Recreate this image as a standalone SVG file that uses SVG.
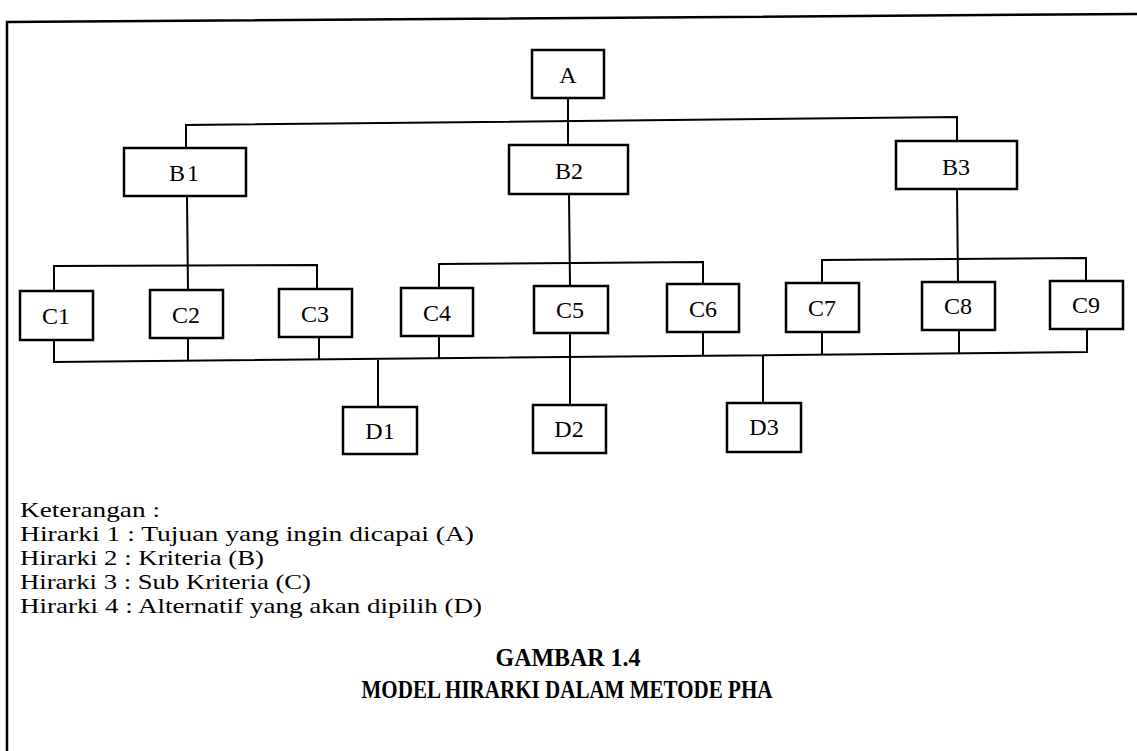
<svg xmlns="http://www.w3.org/2000/svg" width="1137" height="751" viewBox="0 0 1137 751">
<style>
.box{fill:#fff;stroke:#000;stroke-width:2.5}
.lbl{font-family:"Liberation Serif","Times New Roman",serif;font-size:24px;fill:#000;text-anchor:middle;dominant-baseline:central}
.c{fill:none;stroke:#000;stroke-width:2}
.t{font-family:"Liberation Serif","Times New Roman",serif;font-size:21px;fill:#000}
.h{font-family:"Liberation Serif","Times New Roman",serif;font-size:26px;font-weight:bold;fill:#000;text-anchor:middle}
</style>
<rect width="1137" height="751" fill="#fff"/>
<g id="frame" fill="none" stroke="#000" stroke-width="2.5">
<polyline points="7,751 7,22 1137,14"/>
</g>
<g id="connectors" class="c">
<line x1="568" y1="98" x2="568" y2="145"/>
<polyline points="186,148 186,125 957,117 957,141"/>
<line x1="187" y1="196" x2="188" y2="290"/>
<line x1="569" y1="194" x2="570" y2="286"/>
<line x1="957" y1="189" x2="958" y2="282"/>
<polyline points="54,291 54,266 317,265 317,289"/>
<polyline points="439,288 439,264 703,262 703,284"/>
<polyline points="822,283 822,260 1086,258 1086,281"/>
<polyline points="54,340 54,362 1087,352 1087,329"/>
<line x1="188" y1="338" x2="188" y2="361"/>
<line x1="319" y1="337" x2="319" y2="360"/>
<line x1="439" y1="336" x2="439" y2="358"/>
<line x1="570" y1="333" x2="570" y2="405"/>
<line x1="703" y1="332" x2="703" y2="356"/>
<line x1="822" y1="332" x2="822" y2="355"/>
<line x1="959" y1="330" x2="959" y2="353"/>
<line x1="378" y1="360" x2="378" y2="407"/>
<line x1="763" y1="356" x2="763" y2="403"/>
</g>
<g id="A"><rect class="box" x="532" y="50" width="72" height="48"/><text class="lbl" x="568" y="75">A</text></g>
<g id="B1"><rect class="box" x="124" y="148" width="122" height="48"/><text class="lbl" x="185" y="173" letter-spacing="2">B1</text></g>
<g id="B2"><rect class="box" x="509" y="145" width="119" height="49"/><text class="lbl" x="569" y="171">B2</text></g>
<g id="B3"><rect class="box" x="896" y="141" width="121" height="48"/><text class="lbl" x="956" y="167">B3</text></g>
<g id="C1"><rect class="box" x="20" y="291" width="73" height="49"/><text class="lbl" x="56" y="316">C1</text></g>
<g id="C2"><rect class="box" x="150" y="290" width="73" height="48"/><text class="lbl" x="186" y="315">C2</text></g>
<g id="C3"><rect class="box" x="279" y="289" width="73" height="48"/><text class="lbl" x="315" y="314">C3</text></g>
<g id="C4"><rect class="box" x="401" y="288" width="72" height="48"/><text class="lbl" x="437" y="313">C4</text></g>
<g id="C5"><rect class="box" x="534" y="286" width="74" height="47"/><text class="lbl" x="570" y="310">C5</text></g>
<g id="C6"><rect class="box" x="667" y="284" width="72" height="48"/><text class="lbl" x="703" y="309">C6</text></g>
<g id="C7"><rect class="box" x="786" y="283" width="73" height="49"/><text class="lbl" x="822" y="308">C7</text></g>
<g id="C8"><rect class="box" x="922" y="282" width="73" height="48"/><text class="lbl" x="958" y="306">C8</text></g>
<g id="C9"><rect class="box" x="1050" y="281" width="73" height="48"/><text class="lbl" x="1086" y="305">C9</text></g>
<g id="D1"><rect class="box" x="343" y="407" width="74" height="47"/><text class="lbl" x="380" y="431">D1</text></g>
<g id="D2"><rect class="box" x="533" y="405" width="73" height="48"/><text class="lbl" x="569" y="429">D2</text></g>
<g id="D3"><rect class="box" x="727" y="403" width="74" height="49"/><text class="lbl" x="764" y="427">D3</text></g>
<g id="legend">
<text class="t" x="20" y="517" textLength="140" lengthAdjust="spacingAndGlyphs">Keterangan :</text>
<text class="t" x="20" y="541" textLength="454" lengthAdjust="spacingAndGlyphs">Hirarki 1 : Tujuan yang ingin dicapai (A)</text>
<text class="t" x="20" y="565" textLength="244" lengthAdjust="spacingAndGlyphs">Hirarki 2 : Kriteria (B)</text>
<text class="t" x="20" y="589" textLength="291" lengthAdjust="spacingAndGlyphs">Hirarki 3 : Sub Kriteria (C)</text>
<text class="t" x="20" y="613" textLength="462" lengthAdjust="spacingAndGlyphs">Hirarki 4 : Alternatif yang akan dipilih (D)</text>
</g>
<g id="caption">
<text class="h" x="568" y="666" textLength="145" lengthAdjust="spacingAndGlyphs">GAMBAR 1.4</text>
<text class="h" x="567" y="698" textLength="411" lengthAdjust="spacingAndGlyphs">MODEL HIRARKI DALAM METODE PHA</text>
</g>
</svg>
